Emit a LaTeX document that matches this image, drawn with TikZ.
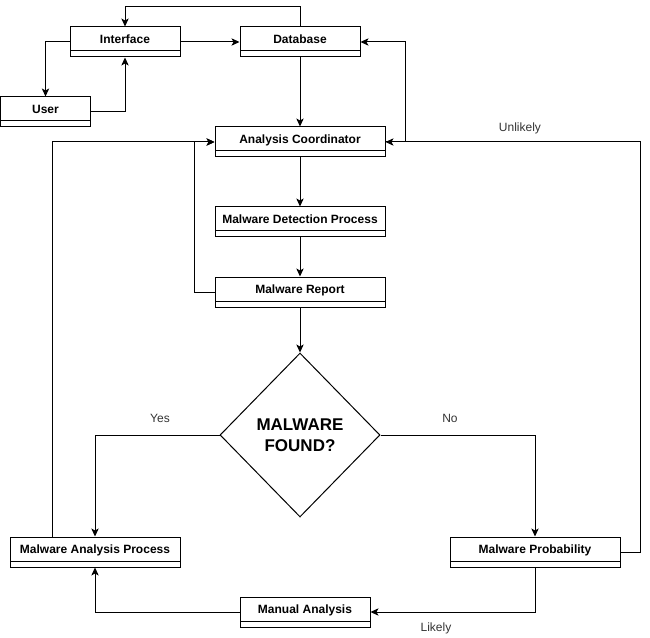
\documentclass[tikz,border=0pt]{standalone}
\usepackage{fontspec}
\setmainfont{Liberation Sans}
\usetikzlibrary{shapes.geometric,arrows.meta}
\begin{document}
\begin{tikzpicture}[x=0.75pt,y=-0.75pt,line width=0.75pt,
  umlbox/.style={draw, minimum height=22.5pt, inner sep=0pt,
    font=\bfseries\fontsize{9}{11}\selectfont, text height=7pt, text depth=4.2pt,
    path picture={\draw[line width=0.75pt] ([yshift=4.5pt]path picture bounding box.south west) -- ([yshift=4.5pt]path picture bounding box.south east);}},
  decision/.style={draw, diamond, inner sep=0pt, minimum width=120pt, minimum height=123pt,
    align=center, font=\bfseries\fontsize{12.75}{15.5}\selectfont},
  edgelabel/.style={font=\fontsize{9}{11}\selectfont, text=black!80, inner sep=0pt},
  arr/.style={-{Stealth[length=6pt,width=5.5pt,inset=1.5pt]}}
]
\useasboundingbox (0,0) rectangle (650,638);

\node[umlbox, minimum width=82.5pt] (iface) at (125,42) {Interface};
\node[umlbox, minimum width=90pt] (db) at (300,42) {Database};
\node[umlbox, minimum width=67.5pt] (user) at (45.5,112) {User};
\node[umlbox, minimum width=127.5pt] (ac) at (300,142) {Analysis Coordinator};
\node[umlbox, minimum width=127.5pt] (mdp) at (300,222) {Malware Detection Process};
\node[umlbox, minimum width=127.5pt] (mr) at (300,292) {Malware Report};
\node[decision] (dec) at (300,435) {MALWARE\\FOUND?};
\node[umlbox, minimum width=127.5pt] (map) at (95,552) {Malware Analysis Process};
\node[umlbox, minimum width=127.5pt] (mp) at (535,552) {Malware Probability};
\node[umlbox, minimum width=97.5pt] (man) at (305,612) {Manual Analysis};

\node[edgelabel] (lyes) at (160,418) {Yes};
\node[edgelabel] (lno) at (450,418) {No};
\node[edgelabel] (lunl) at (520,128) {Unlikely};
\node[edgelabel] (llik) at (436,628) {Likely};

% top cluster
\draw[arr] (db.north) -- ++(0,-20) -| (iface.north);
\draw[arr] (iface.west) -| (user.north);
\draw[arr] (user.east) -| (iface.south);
\draw[arr] (iface.east) -- (db.west);
\draw[arr] (db.south) -- (ac.north);
\draw[arr] (ac.east) -- ++(20,0) |- (db.east);

% main column
\draw[arr] (ac.south) -- (mdp.north);
\draw[arr] (mdp.south) -- (mr.north);
\draw[arr] (mr.south) -- (dec.north);
\draw[arr] (mr.west) -- ++(-20,0) |- (ac.west);

% decision branches
\draw[arr] (dec.west) -| (map.north);
\draw[arr] (dec.east) -| (mp.north);

% lower loop
\draw[arr] (mp.south) |- (man.east);
\draw[arr] (man.west) -| (map.south);
\draw[arr] ([xshift=31.9pt]map.north west) |- (ac.west);
\draw[arr] (mp.east) -- ++(20,0) |- (ac.east);
\end{tikzpicture}
\end{document}
